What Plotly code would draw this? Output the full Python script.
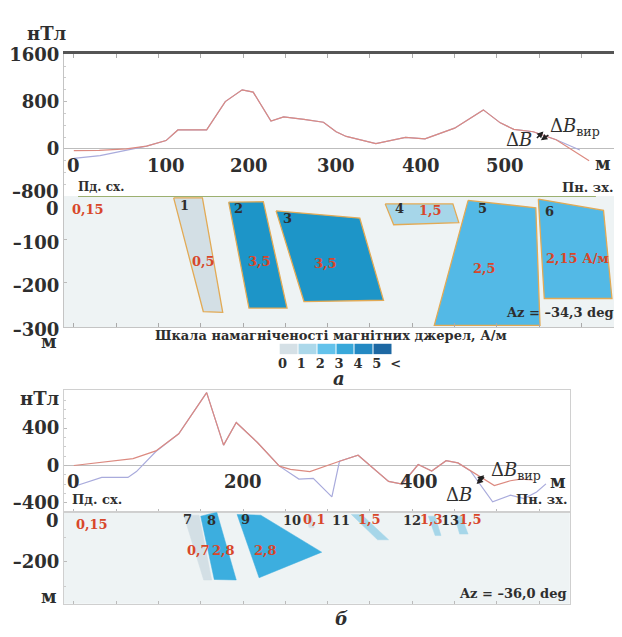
import plotly.graph_objects as go

W, H = 622, 637
SERIF = "DejaVu Serif"
INK = "#2e2e2e"
RED = "#d8472a"
CURVE_VIR = "#dc8a80"
CURVE_OBS = "#a9abdc"
OUTLINE = "#e2aa55"
GRID = "#c4c4c4"

# ---------------- profile (а): distance, m ; field, nT ----------------
prof_a_vir_x = [0, 30, 62, 86, 109, 123, 157, 179, 199, 212, 233, 248, 272, 295, 310,
                322, 357, 392, 415, 450, 484, 504, 520, 543, 570, 609]
prof_a_vir_y = [-30, -25, 0, 45, 140, 320, 320, 800, 1000, 960, 470, 540, 500, 450, 290,
                210, 90, 195, 170, 350, 660, 440, 330, 290, 155, -200]
prof_a_obs_x = [0, 31, 70, 86, 109, 123, 157, 179, 199, 212, 233, 248, 272, 295, 310,
                322, 357, 392, 415, 450, 484, 504, 520, 543, 570, 598]
prof_a_obs_y = [-160, -115, 0, 45, 140, 320, 320, 800, 1000, 960, 470, 540, 500, 450, 290,
                210, 90, 195, 170, 350, 660, 440, 330, 290, 155, -20]

# ---------------- profile (б) ----------------
prof_b_vir_x = [0, 35, 70, 97, 124, 157, 177, 192, 217, 243, 256, 279, 299, 314, 336,
                372, 388, 407, 423, 440, 454, 469, 497, 516, 528, 543]
prof_b_vir_y = [0, 38, 73, 156, 340, 780, 218, 460, 246, -7, -42, -65, 0, 45, 110,
                -170, -198, 10, -60, 52, 28, -60, -215, -163, -145, -155]
prof_b_obs_x = [0, 33, 64, 74, 97, 124, 157, 177, 192, 217, 243, 266, 283, 305, 314, 336,
                372, 388, 407, 423, 440, 454, 469, 495, 516, 532, 547, 558]
prof_b_obs_y = [-225, -128, -128, -65, 150, 340, 780, 218, 460, 246, -7, -145, -138, -335, 45, 110,
                -170, -198, 10, -60, 52, 28, -60, -388, -318, -353, -283, -197]

# ---------------- magnetic sources, section (а) ----------------
src_a_id = ["1", "2", "3", "4", "5", "6"]
src_a_J = [0.5, 3.5, 3.5, 1.5, 2.5, 2.15]
src_a_J_text = ["0,5", "3,5", "3,5", "1,5", "2,5", "2,15 А/м"]
src_a_x = [[118, 152, 176, 153], [183, 224, 252, 207], [239, 338, 366, 272],
           [368, 448, 455, 378], [466, 546, 551, 426], [549, 626, 636, 556]]
src_a_z = [[-4, -4, -268, -266], [-14, -13, -258, -258], [-34, -51, -240, -243],
           [-18, -18, -61, -66], [-10, -27, -298, -298], [-7, -33, -236, -236]]
src_a_id_pos = [(131, -22), (195, -29), (252, -51), (385, -29), (483, -29), (562, -36)]
src_a_J_pos = [(153, -150), (220, -151), (298, -155), (421, -34), (485, -166), (595, -144)]

# ---------------- magnetic sources, section (б) ----------------
src_b_id = ["7", "8", "9", "10", "11", "12", "13"]
src_b_J = [0.7, 2.8, 2.8, 0.1, 1.5, 1.3, 1.5]
src_b_J_text = ["0,7", "2,8", "2,8", "0,1", "1,5", "1,3", "1,5"]
src_b_x = [[130, 148, 163, 153.5], [150, 169, 192, 166], [193, 221, 293, 219],
           [274, 281, 284, 278], [328, 340, 372, 359], [419, 427, 434, 427],
           [450, 458, 466, 456]]
src_b_z = [[-12, -12, -273, -273], [-16, 0, -273, -271], [-9, -12, -161, -264],
           [-10, -10, -62, -62], [-9, -9, -111, -111], [-16, -16, -94, -94],
           [-16, -16, -88, -88]]
src_b_id_pos = [(134, -29), (163, -33), (203, -29), (258, -33), (316, -33), (400, -33), (445, -33)]
src_b_J_pos = [(147, -155), (177, -155), (227, -155), (285, -29), (349, -29), (423, -29), (469, -29)]

host_J_text = "0,15"

# magnetisation scale
scale_colors = ["#d5e0e6", "#acd8ea", "#63c2eb", "#38a8da", "#2389c3", "#1d68a3"]
scale_labels = ["0", "1", "2", "3", "4", "5", "<"]


def body_colour(j):
    if j < 1:
        return "#d3dfe5"
    if j < 2:
        return "#a6d6e9"
    if j < 2.7:
        return "#53b9e6"
    if j < 3:
        return "#3caedf"
    return "#1d95c8"


def px_x(p):
    return p / W


def px_y(p):
    return 1 - p / H


fig = go.Figure()

# field curves
fig.add_trace(go.Scatter(x=prof_a_obs_x, y=prof_a_obs_y, mode="lines",
                         line=dict(color=CURVE_OBS, width=1.2), xaxis="x", yaxis="y"))
fig.add_trace(go.Scatter(x=prof_a_vir_x, y=prof_a_vir_y, mode="lines",
                         line=dict(color=CURVE_VIR, width=1.2), xaxis="x", yaxis="y"))
fig.add_trace(go.Scatter(x=prof_b_obs_x, y=prof_b_obs_y, mode="lines",
                         line=dict(color=CURVE_OBS, width=1.2), xaxis="x3", yaxis="y3"))
fig.add_trace(go.Scatter(x=prof_b_vir_x, y=prof_b_vir_y, mode="lines",
                         line=dict(color=CURVE_VIR, width=1.2), xaxis="x3", yaxis="y3"))

# source bodies
for xs, zs, j in zip(src_a_x, src_a_z, src_a_J):
    fig.add_trace(go.Scatter(x=xs + xs[:1], y=zs + zs[:1], mode="lines", fill="toself",
                             fillcolor=body_colour(j), line=dict(color=OUTLINE, width=1.3),
                             xaxis="x2", yaxis="y2"))
for xs, zs, j in zip(src_b_x, src_b_z, src_b_J):
    fig.add_trace(go.Scatter(x=xs + xs[:1], y=zs + zs[:1], mode="lines", fill="toself",
                             fillcolor=body_colour(j), line=dict(color=body_colour(j), width=0.5),
                             xaxis="x4", yaxis="y4"))

# magnetisation scale bar
fig.add_trace(go.Heatmap(z=[[0, 1, 2, 3, 4, 5]], x=[0.5, 1.5, 2.5, 3.5, 4.5, 5.5], y=[0],
                         colorscale=[[i / 5, c] for i, c in enumerate(scale_colors)],
                         zmin=0, zmax=5, showscale=False, xgap=1, xaxis="x5", yaxis="y5"))

tick_font = dict(family=SERIF, size=18, color=INK, weight="bold")
X_A = [63 / W, 1.0]
X_B = [63 / W, 577 / W]

layout = dict(
    width=W, height=H, margin=dict(l=0, r=0, t=0, b=0), autosize=False,
    paper_bgcolor="white", plot_bgcolor="rgba(0,0,0,0)", showlegend=False,
    # (а) field
    xaxis=dict(domain=X_A, range=[-11.6, 638.4], anchor="y", side="top", showline=True,
               linecolor="#555555", linewidth=2.5, ticks="inside", ticklen=4, tickcolor="#aaaaaa",
               tick0=0, dtick=50, showticklabels=False, showgrid=False, zeroline=False),
    yaxis=dict(domain=[px_y(192), px_y(45)], range=[-800, 1600], anchor="x",
               tickvals=[1600, 800, 0, -800], ticktext=["1600", "800", "0", ""],
               tickfont=tick_font, showline=True, linecolor=GRID, ticks="inside", ticklen=3,
               tickcolor="#bbbbbb", showgrid=False, zeroline=True, zerolinecolor="#bdbdbd",
               zerolinewidth=1, minor=dict(dtick=200, ticks="inside", ticklen=2, tickcolor="#cccccc")),
    # (а) section
    xaxis2=dict(domain=X_A, range=[-11.6, 638.4], anchor="y2", showline=True, linecolor=GRID,
                ticks="inside", ticklen=4, tickcolor="#aaaaaa", tick0=0, dtick=50,
                showticklabels=False, showgrid=False, zeroline=False),
    yaxis2=dict(domain=[px_y(328), px_y(192)], range=[-302, 0], anchor="x2",
                tickvals=[-100, -200, -300], ticktext=["–100", "–200", "–300"], tickfont=tick_font,
                ticklabelshift=3,
                showline=True, linecolor=GRID, ticks="inside", ticklen=3, tickcolor="#bbbbbb",
                showgrid=False, zeroline=False),
    # (б) field
    xaxis3=dict(domain=X_B, range=[-11.6, 586.1], anchor="y3", showline=True, mirror=True,
                linecolor="#d0d0d0", ticks="inside", ticklen=3, tickcolor="#bbbbbb", tick0=0,
                dtick=50, showticklabels=False, showgrid=False, zeroline=False),
    yaxis3=dict(domain=[px_y(520), px_y(393)], range=[-500, 810], anchor="x3",
                tickvals=[400, 0, -400], ticktext=["400", "0", "–400"], tickfont=tick_font,
                showline=True, mirror=True, linecolor="#d0d0d0", ticks="inside", ticklen=3,
                tickcolor="#bbbbbb", showgrid=False, zeroline=True, zerolinecolor="#bdbdbd",
                zerolinewidth=1, minor=dict(dtick=100, ticks="inside", ticklen=2, tickcolor="#cccccc")),
    # (б) section
    xaxis4=dict(domain=X_B, range=[-11.6, 586.1], anchor="y4", showline=True, mirror=True,
                linecolor="#cfcfcf", ticks="inside", ticklen=3, tickcolor="#bbbbbb", tick0=0,
                dtick=50, showticklabels=False, showgrid=False, zeroline=False),
    yaxis4=dict(domain=[px_y(615), px_y(520)], range=[-369, 0], anchor="x4",
                tickvals=[-200], ticktext=["–200"], tickfont=tick_font,
                showline=True, mirror=True, linecolor="#cfcfcf", ticks="inside", ticklen=3,
                tickcolor="#bbbbbb", showgrid=False, zeroline=False,
                minor=dict(dtick=100, ticks="inside", ticklen=2, tickcolor="#cccccc")),
    # scale bar
    xaxis5=dict(domain=[282 / W, 397 / W], range=[0, 6], anchor="y5", tickvals=list(range(7)),
                ticktext=scale_labels, ticks="", ticklabelshift=3, showgrid=False, zeroline=False,
                tickfont=dict(family=SERIF, size=13, color=INK, weight="bold")),
    yaxis5=dict(domain=[px_y(356), px_y(345)], range=[-0.5, 0.5], anchor="x5",
                showticklabels=False, showgrid=False, zeroline=False, ticks=""),
)
fig.update_layout(**layout)

shapes = [
    # section backgrounds
    dict(type="rect", xref="x2 domain", yref="y2 domain", x0=0, x1=1, y0=0, y1=1,
         fillcolor="#eef3f4", line=dict(width=0), layer="below"),
    dict(type="rect", xref="x4 domain", yref="y4 domain", x0=0, x1=1, y0=0, y1=1,
         fillcolor="#eef3f4", line=dict(width=0), layer="below"),
    # day surface
    dict(type="line", xref="x2", yref="y2", x0=5, x1=617, y0=0, y1=0,
         line=dict(color="#9cb070", width=2)),
]
fig.update_layout(shapes=shapes)

ann = []


def text(x, y, s, size=13, color=INK, xref="paper", yref="paper", bold=True, italic=False,
         xanchor="center", yanchor="middle"):
    f = dict(family=SERIF, size=size, color=color)
    if bold:
        f["weight"] = "bold"
    if italic:
        f["style"] = "italic"
    ann.append(dict(x=x, y=y, xref=xref, yref=yref, text=s, showarrow=False, font=f,
                    xanchor=xanchor, yanchor=yanchor))


# x tick labels sitting on the zero line of the field plots
for v, s, dx in zip([0, 100, 200, 300, 400, 500], ["0", "100", "200", "300", "400", "500"],
                    [0, 8, 6, 8, 9, 8]):
    ann.append(dict(x=v, y=0, xref="x", yref="y", text=s, showarrow=False, yshift=-17, xshift=dx,
                    font=tick_font))
for v, s, dx in zip([0, 200, 400], ["0", "200", "400"], [0, 0, 7]):
    ann.append(dict(x=v, y=0, xref="x3", yref="y3", text=s, showarrow=False, yshift=-16, xshift=dx,
                    font=tick_font))

# units and captions
text(px_x(46), px_y(23), "нТл", size=18)
text(px_x(39), px_y(402), "нТл", size=18)
text(px_x(611), px_y(158), "м", size=18)
text(px_x(565), px_y(488), "м", size=18)
text(px_x(60), px_y(187), "–800", size=18, xanchor="right")
text(px_x(60), px_y(205), "0", size=18, xanchor="right")
text(px_x(60), px_y(529), "0", size=18, xanchor="right")
text(px_x(48), px_y(343), "м", size=18)
text(px_x(48), px_y(607), "м", size=18)
text(px_x(101), px_y(183), "Пд. сх.", size=12)
text(px_x(595), px_y(183), "Пн. зх.", size=13)
text(px_x(97), px_y(507), "Пд. сх.", size=13)
text(px_x(548), px_y(507), "Пн. зх.", size=13)
text(px_x(567), px_y(313), "Az = –34,3 deg", size=13)
text(px_x(519), px_y(604), "Az = –36,0 deg", size=13)
text(px_x(334), px_y(337), "Шкала намагніченості магнітних джерел, А/м", size=13)
text(px_x(343), px_y(381), "а", size=18, italic=True)
text(px_x(345), px_y(630), "б", size=18, italic=True)

# curve labels
text(px_x(525), px_y(133), "Δ<i>B</i>", size=18, bold=False)
text(px_x(582), px_y(120), "Δ<i>B</i><sub>вир</sub>", size=18, bold=False)
text(px_x(464), px_y(502), "Δ<i>B</i>", size=18, bold=False)
text(px_x(522), px_y(477), "Δ<i>B</i><sub>вир</sub>", size=18, bold=False)
for x, y, ax, ay, xr, yr in [(555, 294, -8, 8, "x", "y"), (552, 147, 9, -6, "x", "y"),
                             (485, -104, -8, 7, "x3", "y3"), (476, -197, 9, -8, "x3", "y3")]:
    ann.append(dict(x=x, y=y, xref=xr, yref=yr, text="", showarrow=True, ax=ax, ay=ay,
                    arrowhead=2, arrowsize=0.8, arrowwidth=1.6, arrowcolor="#222222"))

# source labels
text(17, -31, host_J_text, size=13, color=RED, xref="x2", yref="y2")
text(22, -49, host_J_text, size=13, color=RED, xref="x4", yref="y4")
for s, (x, z) in zip(src_a_id, src_a_id_pos):
    text(x, z, s, size=13, xref="x2", yref="y2")
for s, (x, z) in zip(src_a_J_text, src_a_J_pos):
    text(x, z, s, size=13, color=RED, xref="x2", yref="y2")
for s, (x, z) in zip(src_b_id, src_b_id_pos):
    text(x, z, s, size=13, xref="x4", yref="y4")
for s, (x, z) in zip(src_b_J_text, src_b_J_pos):
    text(x, z, s, size=13, color=RED, xref="x4", yref="y4")

fig.update_layout(annotations=ann)
fig.write_html("out.html",
               post_script="document.body.style.margin='0';document.body.style.overflow='hidden';")
